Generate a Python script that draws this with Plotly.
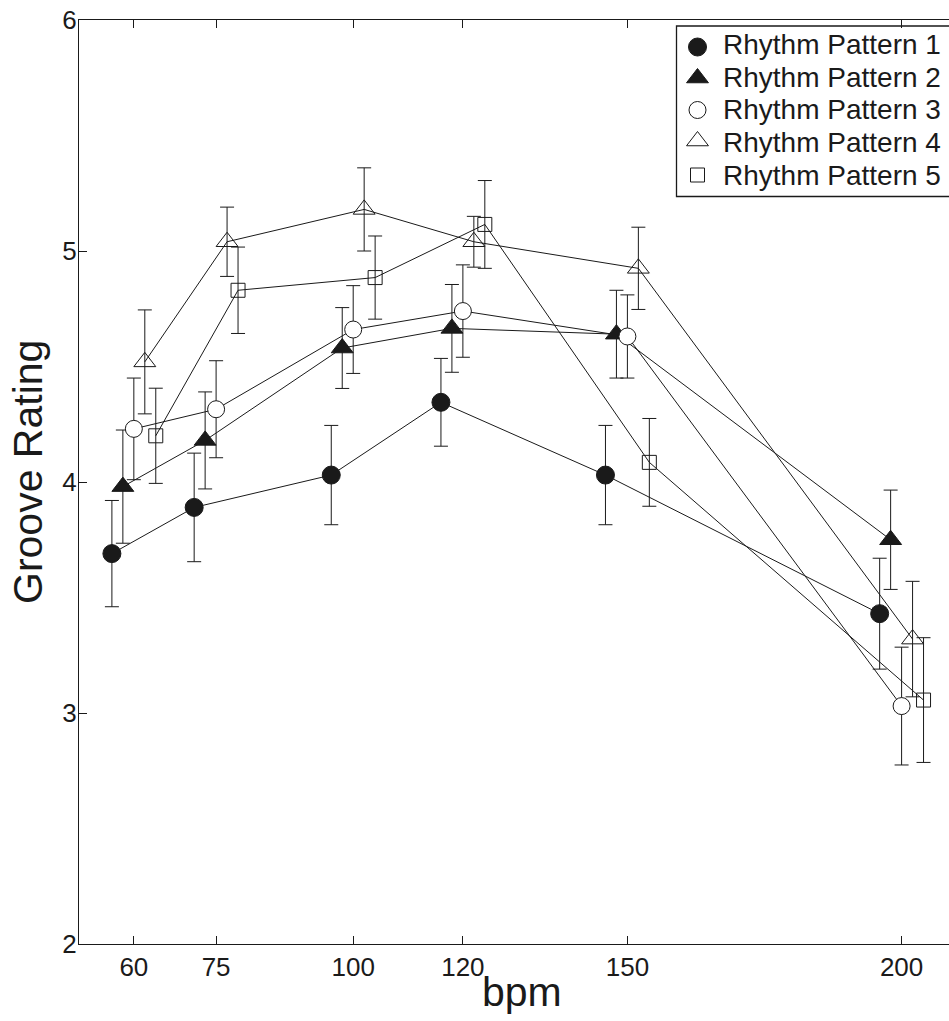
import plotly.graph_objects as go

bpm = [60, 75, 100, 120, 150, 200]
dodge = [-4, -2, 0, 2, 4]
names = ["Rhythm Pattern 1", "Rhythm Pattern 2", "Rhythm Pattern 3",
         "Rhythm Pattern 4", "Rhythm Pattern 5"]

p1 = [3.69, 3.89, 4.03, 4.345, 4.03, 3.43]
e1 = [0.23, 0.235, 0.215, 0.19, 0.215, 0.24]
p2 = [3.98, 4.18, 4.58, 4.665, 4.64, 3.75]
e2 = [0.245, 0.21, 0.175, 0.19, 0.19, 0.215]
p3 = [4.23, 4.315, 4.66, 4.74, 4.63, 3.03]
e3 = [0.22, 0.21, 0.19, 0.20, 0.18, 0.255]
p4 = [4.52, 5.04, 5.18, 5.04, 4.925, 3.32]
e4 = [0.225, 0.15, 0.18, 0.11, 0.178, 0.25]
p5 = [4.20, 4.83, 4.885, 5.115, 4.085, 3.056]
e5 = [0.206, 0.187, 0.18, 0.19, 0.19, 0.27]

values = [p1, p2, p3, p4, p5]
errors = [e1, e2, e3, e4, e5]

INK = "#1a1a1a"
styles = [
    dict(symbol="circle", size=18, color=INK, line=dict(color=INK, width=1)),
    dict(symbol="triangle-up", size=19, color=INK, line=dict(color=INK, width=1)),
    dict(symbol="circle", size=17, color="white", line=dict(color=INK, width=1)),
    dict(symbol="triangle-up-open", size=19, color=INK, line=dict(color=INK, width=1)),
    dict(symbol="square-open", size=14, color=INK, line=dict(color=INK, width=1)),
]

FONT = "Liberation Sans, Arial, Helvetica, sans-serif"

# plot area in pixels (for placing the hand-made legend box)
PL, PR, PT, PB = 79, 949, 20, 944


def px(xp):
    return (xp - PL) / (PR - PL)


def py(yp):
    return (PB - yp) / (PB - PT)


fig = go.Figure()
for name, vals, errs, d, st in zip(names, values, errors, dodge, styles):
    fig.add_trace(go.Scatter(
        x=[b + d for b in bpm], y=vals, name=name, mode="lines+markers",
        line=dict(color=INK, width=1),
        marker=st, showlegend=False,
        error_y=dict(type="data", array=errs, visible=True,
                     color=INK, thickness=1, width=7),
    ))

# legend (markers only, as in the reference)
marker_rows = [47, 78, 110, 141, 175]
text_rows = [44, 77, 110, 143, 176]
annotations = []
for name, st, my, ty in zip(names, styles, marker_rows, text_rows):
    fig.add_trace(go.Scatter(
        x=[px(697.5)], y=[py(my)], xaxis="x2", yaxis="y2", mode="markers",
        marker=st, showlegend=False, hoverinfo="skip", cliponaxis=False,
    ))
    annotations.append(dict(
        text=name, xref="paper", yref="paper", x=px(721), y=py(ty),
        xanchor="left", yanchor="middle", showarrow=False,
        font=dict(size=28, family=FONT, color=INK)))

annotations += [
    dict(text="bpm", xref="paper", yref="paper", x=px(521.7),
         y=py(992), xanchor="center", yanchor="middle",
         showarrow=False, font=dict(size=41, family=FONT, color=INK)),
    dict(text="Groove Rating", xref="paper", yref="paper", x=px(28),
         y=py(472), xanchor="center", yanchor="middle",
         textangle=-90, showarrow=False, font=dict(size=41, family=FONT, color=INK)),
]

fig.update_layout(
    width=949, height=1021,
    margin=dict(l=PL, r=949 - PR, t=PT, b=1021 - PB),
    paper_bgcolor="white", plot_bgcolor="white",
    font=dict(family=FONT, color=INK),
    showlegend=False,
    xaxis=dict(range=[50, 50 + (PR - PL) / 5.484], tickmode="array", tickvals=bpm,
               ticktext=[str(b) for b in bpm], ticks="inside", ticklen=8,
               tickcolor=INK, showline=True, linecolor=INK,
               linewidth=1.3, mirror="ticks", showgrid=False, zeroline=False,
               tickfont=dict(size=26)),
    yaxis=dict(range=[2, 6], tickvals=[2, 3, 4, 5, 6], ticks="inside", ticklen=8,
               tickcolor=INK, showline=True, linecolor=INK,
               linewidth=1.3, showgrid=False, zeroline=False,
               ticklabelstandoff=-4, tickfont=dict(size=26)),
    xaxis2=dict(overlaying="x", anchor="y2", range=[0, 1], visible=False,
                fixedrange=True),
    yaxis2=dict(overlaying="y", anchor="x2", range=[0, 1], visible=False,
                fixedrange=True),
    shapes=[dict(type="rect", xref="paper", yref="paper",
                 x0=px(676.5), x1=px(975), y0=py(196.5), y1=py(26),
                 line=dict(color=INK, width=1.3), fillcolor="white",
                 layer="below")],
    annotations=annotations,
)

fig.write_html("out.html")
